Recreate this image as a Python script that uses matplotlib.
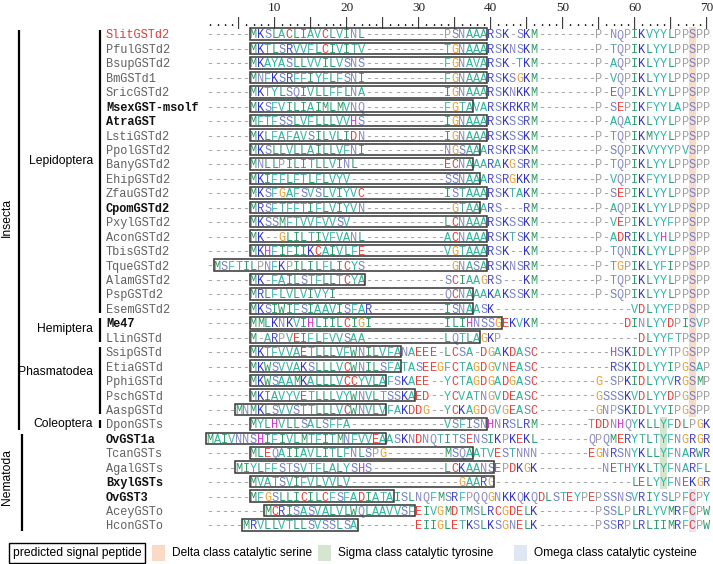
import matplotlib.pyplot as plt
from matplotlib.patches import Rectangle

# sequence names, in alignment order
names = ["SlitGSTd2", "PfulGSTd2", "BsupGSTd2", "BmGSTd1", "SricGSTd2",
         "MsexGST-msolf", "AtraGST", "LstiGSTd2", "PpolGSTd2", "BanyGSTd2",
         "EhipGSTd2", "ZfauGSTd2", "CpomGSTd2", "PxylGSTd2", "AconGSTd2",
         "TbisGSTd2", "TqueGSTd2", "AlamGSTd2", "PspGSTd2", "EsemGSTd2",
         "Me47", "LlinGSTd", "SsipGSTd", "EtiaGSTd", "PphiGSTd", "PschGSTd",
         "AaspGSTd", "DponGSTs", "OvGST1a", "TcanGSTs", "AgalGSTs",
         "BxylGSTs", "OvGST3", "AceyGSTo", "HconGSTo"]
bold_names = ["MsexGST-msolf", "AtraGST", "CpomGSTd2", "Me47", "OvGST1a",
              "BxylGSTs", "OvGST3"]
red_names = ["SlitGSTd2"]

seqs = [
    "------MKSLACLIAVCLVINL-----------PSNAAARSK-SKM--------P-NQPIKVYYLPPSPP",
    "------MKTLSRVVFLCIVITV-----------TGNAAARSKNSKM--------P-TQPIKLYYLPPSPP",
    "------MKAYASLLVVILVSNS-----------FGNAVARSK-TKM--------P-AQPIKLYYLPPSPP",
    "------MNFKSRFFIYFLFSNI-----------FGNAAARSKSGKM--------P-VQPIKLYYLPPSPP",
    "------MKTYLSQIVLLFFLNA-----------IGNAAARSKNKKM--------P-EQPIKLYYLPPSPP",
    "------MKSFVILIAIMLMVNQ-----------FGTAVARSKRKRM--------P-SEPIKFYYLAPSPP",
    "------MFTFSSLVFLLLVVHS-----------IGNAAARSKSSRM--------P-AQAIKLYYLPPSPP",
    "------MKLFAFAVSILVLIDN-----------IGNAAARSKSSKM--------P-TQPIKMYYLPPSPP",
    "------MKSLLVLLAILLVFNI-----------NGSAAARSKRSKM--------P-SQPIKVYYYPVSPP",
    "------MNLLPILITLLVINL------------ECNAAARAKGSRM--------P-TQPIKLYYLPPSPP",
    "------MKIFFLFTLFLVYV-------------SSNAAARSRGKKM--------P-VQPIKFYYLPPSPP",
    "------MKSFGAFSVSLVIYVC-----------ISTAAARSKTAKM--------P-SEPIKLYYLPPSPP",
    "------MRSFTFFTIFLVIYVN------------GTAAARS---RM--------P-AQPIKLYYLPPSPP",
    "------MKSSMFTVVFVVSV-------------LCNAAARSKSSKM--------P-VEPIKLYYFPPSPP",
    "------MK--GLILTIVFVANL-----------ACNAAARSKTSKM--------P-ADRIKLYHLPPSPP",
    "------MKHFIFIIKCAIVLFE-----------VGTAAARSK--KM--------P-TQNIKLYYLPPSPP",
    "-MSFTILPNFKPILILFLICYS------------GNASARSKNSRM--------P-TGPIKLYFIPPSPP",
    "------MK-FAILSTFLLTCYA-----------SCIAAGRS---KM--------P-TQPIKLYYLPPSPP",
    "------MRLFLVLVIVYI---------------QCNAAAKAKSSKM--------P-SQPIKLYYLPPSPP",
    "------MKSIWIFSIAAVISFAR----------ISNAASK-------------------VDLYYFPPSPP",
    "------MMLKNKVIHLIILCIGI----------ILIHNSSGEKVKM------------DINLYYDPISVP",
    "------M-ARPVEIFLFVVSAA-----------LQTLAGKP-------------------DLYYFTPSPP",
    "------MKTFVVAETLLLVFWNILVFANAEEE-LCSA-DGAKDASC----------HSKIDLYYTPGSPP",
    "------MKWSVVAKSLLLVCWNILSFATASEEGFCTAGDGVNEASC----------RSKIDLYYIPGSAP",
    "------MKWSAAMKALLLVCCYVLAFSKAEE--YCTAGDGADGASC--------G-SPKIDLYYVRGSMP",
    "------MKIAVYVETLLLVYWNVLTSSKAED--YCVATNGVDEASC--------GSSSKVDLYYDPGSPP",
    "----MNMKLSVVSTTLLLVCWNVLVFAKDDG--YCKAGDGVGEASC--------GNPSKIDLYYIPGSPP",
    "------MYLHVLLSALSFFA-------------VSFISNHNRSLRM-------TDDNHQYKLLYFDLPGK",
    "MAIVNNSHIFIVLMTFITMNFVVEAASKNDNQTITSENSIKPKEKL-------QPQMERYTLTYFNGRGR",
    "------MLEQAIIAVLITLFNLSPG--------MSQAATVESTNNN-------EGNRSNYKLLYFNARWR",
    "----MIYLFFSTSVTFLALYSHS----------LCKAANSEPDKGK---------NETHYKLTYFNARFL",
    "------MVATSVIFVLVVLV---------------GAARG-------------------LELYYFNEKGR",
    "------MFGSLLICILCFSFADIATAISLNQFMSRFPQQGNKKQKQDLSTEYPEPSSNSVRIYSLPFCPY",
    "--------MCRISASVALVLWQLAAVVSFEIVGMDTMSLRCGDELK--------PSSLPLRLYVMRFCPW",
    "-----MRVLLVTLLSVSSLSA--------EIIGLETKSLKSGNELK--------PSSRPLRLIIMRFCPW",
]

# predicted signal peptide: first and last alignment column (1-based)
sig_start = [7, 7, 7, 7, 7, 7, 7, 7, 7, 7, 7, 7, 7, 7, 7, 7, 2, 7, 7, 7,
             7, 7, 7, 7, 7, 7, 5, 7, 1, 7, 5, 7, 7, 9, 6]
sig_end = [39, 39, 39, 39, 39, 37, 39, 39, 38, 37, 38, 39, 38, 39, 39, 39,
           39, 22, 37, 37, 41, 38, 27, 27, 25, 29, 25, 39, 25, 37, 40, 40,
           26, 29, 21]

# catalytic residue columns: (column, first row, last row), 0-based rows
delta_site = (68, 0, 26)
sigma_site = (64, 27, 31)
omega_site = (68, 32, 34)

# taxon groups: (label, first row, last row, label row)
orders = [("Lepidoptera", 0, 19, 8.8), ("Hemiptera", 20, 21, 20.4),
          ("Phasmatodea", 22, 26, 23.4), ("Coleoptera", 27, 27, 27.0)]
classes = [("Insecta", 0, 27, 12.7), ("Nematoda", 28, 34, 30.7)]

ncol = len(seqs[0])
for n, s in zip(names, seqs):
    assert len(s) == ncol, (n, len(s))

aa_colors = {
    "A": "#2fb59a", "C": "#e5403a", "D": "#e5403a", "E": "#e5403a",
    "F": "#3cb8ac", "G": "#e8a032", "H": "#d236d2", "I": "#2e9a6a",
    "K": "#3434c0", "L": "#2e9c78", "M": "#2e9a66", "N": "#8a8ac6",
    "P": "#a0a0a0", "Q": "#8a8ac6", "R": "#4848c6", "S": "#7480c6",
    "T": "#4fa8a2", "V": "#38b4a2", "W": "#2e9a6a", "Y": "#2fb8ae",
    "-": "#9a9a9a",
}

W, H = 713, 564
fig = plt.figure(figsize=(W / 100, H / 100), dpi=100)
ax = fig.add_axes([0, 0, 1, 1])
ax.axis("off")

# pixel layout of the alignment grid
x0, cw = 210.0, 7.2     # centre of column 1, column width
y0, rh = 34.0, 14.44    # centre of row 1, row height
ax.set_xlim((0 - x0) / cw + 1, (W - x0) / cw + 1)
ax.set_ylim((H - y0) / rh, (0 - y0) / rh)


def col_at(px):
    return (px - x0) / cw + 1


mono = "Liberation Mono"
fs = 8.55

# highlighted catalytic columns
for (col, r0, r1), c in [(delta_site, "#fadac4"), (sigma_site, "#d4e6d0"),
                         (omega_site, "#dfe7f5")]:
    ax.add_patch(Rectangle((col - 0.5, r0 - 0.5), 1, r1 - r0 + 1,
                           fc=c, ec="none", zorder=0))

# ruler
ruler = "".join("|" if (i % 5 == 0) else "." for i in range(1, ncol + 1))
for i, ch in enumerate(ruler):
    ax.text(i + 1, -0.85, ch, family=mono, fontsize=fs, ha="center",
            va="center_baseline", color="#222222")
for k in range(10, ncol + 1, 10):
    ax.text(k, -1.8, str(k), family="Liberation Serif", fontsize=9.5,
            ha="center", va="center", color="#222222")

# sequences
for r, (n, s) in enumerate(zip(names, seqs)):
    if n in red_names:
        nc, fw = "#e03a3a", "normal"
    elif n in bold_names:
        nc, fw = "#111111", "bold"
    else:
        nc, fw = "#606060", "normal"
    ax.text(col_at(106), r, n, family=mono, fontsize=fs, ha="left",
            va="center_baseline", color=nc, fontweight=fw)
    for i, ch in enumerate(s):
        ax.text(i + 1, r, ch, family=mono, fontsize=fs, ha="center",
                va="center_baseline", color=aa_colors.get(ch, "#555555"))
    ax.add_patch(Rectangle((sig_start[r] - 0.5, r - 0.4),
                           sig_end[r] - sig_start[r] + 1, 0.8,
                           fc="none", ec="#333333", lw=1.1, zorder=3))

# taxon brackets
sans = "Liberation Sans"
for lab, r0, r1, ry in orders:
    ax.plot([col_at(100)] * 2, [r0 - 0.3, r1 + 0.3], color="black", lw=1.6,
            solid_capstyle="butt")
    ax.text(col_at(93), ry, lab, family=sans, fontsize=8.7, ha="right",
            va="center")
for (lab, r0, r1, ry), bx in zip(classes, [19, 22]):
    ax.plot([col_at(bx)] * 2, [r0 - 0.3, r1 + 0.4], color="black", lw=1.6,
            solid_capstyle="butt")
    ax.text(col_at(7), ry, lab, family=sans, fontsize=8.7,
            ha="center", va="center", rotation=90)

# legend
fig.text(13 / W, 1 - 553 / H, "predicted signal peptide", family=sans,
         fontsize=8.7, ha="left", va="center",
         bbox=dict(boxstyle="square,pad=0.3", fc="white", ec="black", lw=1))
legend_items = [("Delta class catalytic serine", "#fadac4", 152),
                ("Sigma class catalytic tyrosine", "#d4e6d0", 318),
                ("Omega class catalytic cysteine", "#dfe7f5", 514)]
for lab, c, px in legend_items:
    fig.add_artist(Rectangle((px / W, 1 - 561 / H), 13 / W, 16 / H,
                             transform=fig.transFigure, fc=c, ec="none"))
    fig.text((px + 20) / W, 1 - 553 / H, lab, family=sans, fontsize=8.6,
             ha="left", va="center")

fig.savefig("out.png", dpi=100)
